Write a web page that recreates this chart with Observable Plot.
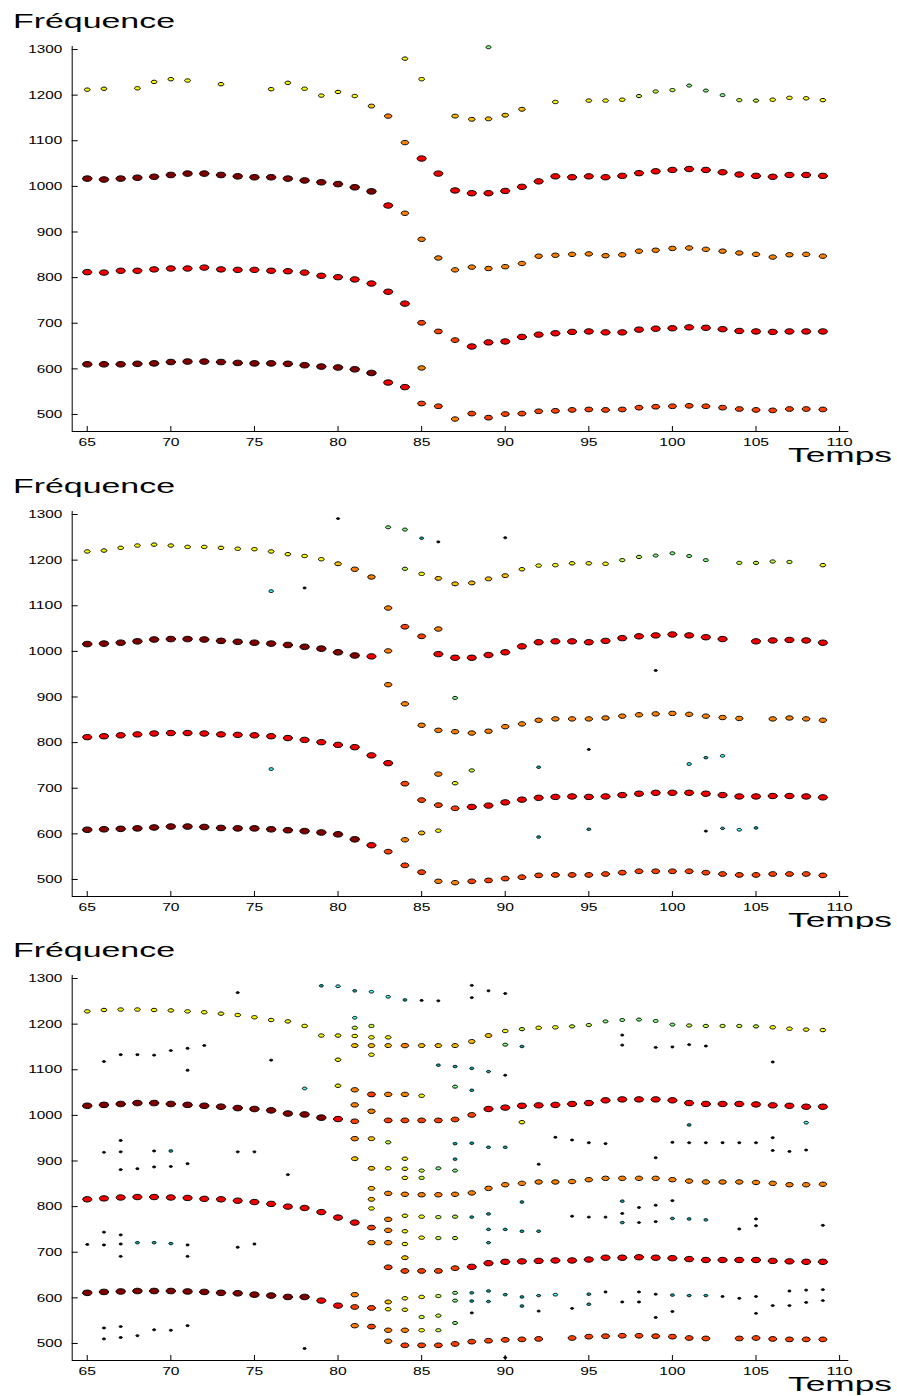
<!DOCTYPE html>
<html>
<head>
<meta charset="utf-8">
<script src="https://cdn.jsdelivr.net/npm/d3@7"></script>
<script src="https://cdn.jsdelivr.net/npm/@observablehq/plot@0.6"></script>
<style>
  body { margin: 0; background: #fff; }
  #root { position: relative; width: 897px; height: 1396px; overflow: hidden; }
  .panel { position: absolute; left: 0; }
</style>
</head>
<body>
<div id="root"></div>
<script>
// ---------- axes ----------
const X_TICKS = [65, 70, 75, 80, 85, 90, 95, 100, 105, 110];
const Y_TICKS = [500, 600, 700, 800, 900, 1000, 1100, 1200, 1300];
const X_DOMAIN = [64.1, 110.55];
const Y_DOMAIN = [462.7, 1306.6];
const Y_TITLE = "Fréquence";
const X_TITLE = "Temps";

// amplitude level -> colour / size (A strongest ... K weakest)
const LEVEL_COLOR = {A:"#800000", B:"#f00000", C:"#ff4000", D:"#ff8000", E:"#ffbf00",
                     F:"#ffff00", G:"#bfff40", H:"#80ff80", I:"#40ffff", J:"#00b0b0", K:"#000000"};
const LEVEL_R = {A:2.8, B:2.7, C:2.35, D:2.2, E:1.95, F:1.7, G:1.6, H:1.5, I:1.35, J:1.2, K:0.95};

// ---------- panel 1 (tracks start at t0, one value per time step, "." = gap) ----------
const P1_TOP_T0 = 65;
const P1_TOP_LV = "FF.FF" + "FF.F." + ".FFFF" + "FFEDD" + "..EEE" + "EE.F." + "FFFGG" + "GHHHG" + "GFFFF";
const P1_TOP_F = [1212,1214,null,1215,1229, 1235,1232,null,1224,null, null,1213,1227,1214,1199,
                  1207,1198,1176,1154,1096, null,null,1154,1147,1148, 1156,1169,null,1185,null,
                  1188,1188,1190,1198,1208, 1211,1221,1210,1200,1189, 1188,1190,1194,1193,1189];
const P1_H3_T0 = 65;
const P1_H3_LV = "AAAAAAAAAAAAAAAAAAB" + "DDDDDDDDDDDDDDDDDDDDDDDDDD";
const P1_H3_F = [1017,1015,1017,1019,1021, 1025,1028,1028,1025,1022, 1020,1020,1017,1013,1009,
                 1005,998,989,958,941, 884,843,817,823,820, 824,831,847,849,851,
                 852,848,850,858,860, 864,865,862,858,854, 851,845,850,851,847];
const P1_RED_T0 = 85;
const P1_RED_LV = "BBBBBBBBBBBBBBBBBBBBBBBBB";
const P1_RED_F = [1061,1028,991,985,985, 990,999,1011,1022,1020, 1022,1020,1023,1029,1033,
                  1036,1038,1036,1031,1026, 1023,1021,1025,1025,1023];
const P1_H2_T0 = 65;
const P1_H2_LV = "BBBBBBBBBBBBBBBBBBBBCCCBBBBBBBBBBBBBBBBBBBBBB";
const P1_H2_F = [812,811,815,815,818, 820,820,822,818,817, 817,815,814,811,804,
                 801,796,787,769,743, 701,682,663,649,658, 660,670,675,678,681,
                 682,680,680,686,688, 689,691,690,687,683, 682,681,682,682,682];
const P1_H1_T0 = 65;
const P1_H1_LV = "AAAAAAAAAAAAAAAAAABBCCDCCCCCCCCCCCCCCCCCCCCCC";
const P1_H1_F = [610,610,610,611,612, 615,616,616,615,613, 612,612,611,608,605,
                 603,599,591,570,560, 524,518,490,502,493, 501,502,507,508,510,
                 511,510,511,515,517, 518,519,518,515,512, 510,509,512,512,511];
const P1_EXTRA = [[84,1280,"F"],[85,1235,"F"],[89,1305,"H"],[85,602,"D"]];

// ---------- panel 2 ----------
const P2_TOP_T0 = 65;
const P2_TOP_LV = "FFFFF" + "FFFFF" + "FFFFF" + "EDD.G" + "FEEEE" + "EFFFF" + "FFGGH" + "HHH.G" + "GGG.F";
const P2_TOP_F = [1219,1221,1227,1232,1234, 1232,1229,1229,1227,1225, 1224,1219,1213,1209,1202,
                  1192,1180,1163,null,1181, 1170,1160,1148,1150,1159, 1166,1180,1188,1189,1193,
                  1193,1192,1200,1207,1210, 1215,1209,1200,null,1194, 1194,1197,1196,null,1189];
const P2_H3_T0 = 65;
const P2_H3_LV = "AAAAAAAAAAAAAAAAABDCC" + "BBBBBBBBBBBBBBBBBB" + ".BBBBB";
const P2_H3_F = [1016,1017,1019,1022,1026, 1027,1027,1026,1023,1021, 1019,1017,1014,1010,1006,
                 998,991,989,1001,1054, 1033,994,986,986,992, 998,1011,1020,1022,1022,
                 1020,1023,1029,1033,1035, 1037,1035,1031,1027,null, 1022,1024,1025,1024,1019];
const P2_OR_T0 = 83;
const P2_OR_LV = "DDDDDDDDDDDDDDDDDDDDDD.DDDD";
const P2_OR_F = [927,885,838,827,824, 821,825,835,841,849, 852,852,852,854,858,
                 861,863,864,862,858, 855,853,null,852,854, 852,849];
const P2_H2_T0 = 65;
const P2_H2_LV = "BBBBBBBBBBBBBBBBBBBCCCCBBBBBBBBBBBBBBBBBBBBBB";
const P2_H2_F = [812,814,816,818,820, 821,821,820,818,817, 816,814,810,806,801,
                 795,790,772,755,710, 674,663,656,659,662, 669,675,679,681,682,
                 681,682,685,688,690, 690,690,688,685,682, 682,683,683,682,680];
const P2_H1_T0 = 65;
const P2_H1_LV = "AAAAAAAAAAAAAAAAABCCCDDCCCCCCCCCCCCCCCCCCCCCC";
const P2_H1_F = [609,610,611,612,614, 616,616,615,613,612, 612,610,608,606,603,
                 599,588,575,561,531, 516,496,493,496,498, 502,505,509,510,510,
                 510,512,515,518,518, 518,518,515,512,510, 510,512,512,512,509];
const P2_EXTRA = [[76,1132,"I"],[78,1139,"K"],[80,1291,"K"],[83,1272,"H"],[84,1267,"H"],[85,1248,"J"],
  [86,1240,"K"],[90,1249,"K"],[83,1095,"D"],[86,1049,"D"],[87,898,"H"],[99,958,"K"],
  [76,742,"I"],[86,731,"D"],[87,711,"F"],[88,739,"G"],[92,746,"J"],[95,785,"K"],[101,753,"I"],
  [102,767,"J"],[103,771,"I"],[84,587,"D"],[85,602,"E"],[86,607,"F"],[92,593,"J"],[95,610,"J"],
  [102,606,"K"],[103,612,"J"],[104,609,"I"],[105,613,"J"]];

// ---------- panel 3 ----------
const P3_TOP_T0 = 65;
const P3_TOP_LV = "FFFFFFFFFFFFFFFFFFF";
const P3_TOP_F = [1228,1231,1232,1232,1231, 1230,1228,1226,1223,1220, 1215,1209,1206,1196,1175,
                  1175,1174,1171,1171];
const P3_UP_T0 = 81;
const P3_UP_LV = "EEEDEEEEEFGFFGGHHHHHGGGGGFFFF";
const P3_UP_F = [1153,1153,1153,1153,1153, 1153,1153,1162,1175,1185, 1189,1192,1193,1195,1198,
                 1206,1209,1210,1207,1199, 1197,1196,1196,1196,1195, 1193,1190,1188,1187];
const P3_H3_T0 = 65;
const P3_H3_LV = "AAAAAAAAAAAAAAABCDCCCCCC" + "BBBBBBBBBBBBBBBBBBBBB";
const P3_H3_F = [1021,1023,1025,1027,1027, 1025,1023,1021,1019,1016, 1014,1011,1004,1002,995,
                 992,987,1009,989,989, 989,989,991,1001,1014, 1017,1021,1022,1023,1025,
                 1027,1033,1035,1035,1035, 1033,1027,1025,1025,1025, 1024,1022,1021,1019,1019];
const P3_OR_T0 = 83;
const P3_OR_LV = "DDDDDDDDDDDDDDDDDDDDDDDDDDD";
const P3_OR_F = [829,827,826,826,827, 830,840,848,851,854, 854,855,859,862,862,
                 862,862,859,856,854, 854,854,853,851,848, 848,849];
const P3_H2_T0 = 65;
const P3_H2_LV = "BBBBBBBBBBBBBBBBBC";
const P3_H2_F = [816,818,820,821,821, 820,819,817,816,813, 810,806,800,797,788,
                 776,765,754];
const P3_LOW2_T0 = 83;
const P3_LOW2_LV = "CCCCCBBBBBBBBBBBBBBBBBBBBBB";
const P3_LOW2_F = [667,659,659,659,665, 668,676,679,680,681, 682,682,684,688,688,
                   689,688,687,685,683, 683,683,683,681,680, 679,679];
const P3_H1_T0 = 65;
const P3_H1_LV = "AAAAAAAAAAAAAABBCC";
const P3_H1_F = [611,613,614,615,615, 615,614,613,611,610, 607,605,602,602,594,
                 583,580,578];
const P3_LOW1_T0 = 83;
const P3_LOW1_LV = "DCCCCCCCCC.CCCCCCCCC.CCCCCC";
const P3_LOW1_F = [505,496,496,496,499, 504,506,508,509,510, null,512,515,516,517,
                   517,516,515,512,511, null,511,512,510,509, 509,509];
const P3_EXTRA_LEFT = [[74,1269,"K"],[66,1118,"K"],[67,1133,"K"],[68,1133,"K"],[69,1132,"K"],[70,1142,"K"],
  [71,1147,"K"],[71,1099,"K"],[72,1153,"K"],[76,1121,"K"],[78,1059,"I"],
  [66,919,"K"],[67,945,"K"],[67,920,"K"],[67,881,"K"],[68,883,"K"],[69,922,"K"],[69,887,"K"],
  [70,922,"J"],[70,888,"K"],[71,894,"K"],[74,920,"K"],[75,920,"K"],[77,870,"K"],
  [65,717,"K"],[66,744,"K"],[66,716,"K"],[67,738,"K"],[67,718,"K"],[67,691,"K"],[68,721,"J"],
  [69,721,"J"],[70,719,"J"],[71,716,"K"],[71,691,"K"],[74,711,"K"],[75,718,"K"],
  [66,534,"K"],[66,510,"K"],[67,537,"K"],[67,513,"K"],[68,517,"K"],[69,530,"K"],[70,529,"K"],
  [71,539,"K"],[78,489,"K"]];
const P3_EXTRA_MID = [[79,1284,"J"],[80,1283,"I"],[81,1273,"J"],[82,1271,"I"],[83,1260,"I"],[84,1253,"J"],
  [85,1252,"K"],[86,1251,"K"],[88,1285,"K"],[88,1258,"K"],[89,1273,"K"],[90,1267,"K"],
  [80,1122,"F"],[80,1065,"F"],
  [81,1214,"I"],[81,1192,"G"],[81,1056,"D"],[81,1023,"D"],[81,949,"D"],[81,905,"E"],[81,607,"D"],[81,539,"D"],
  [82,1196,"G"],[82,1133,"F"],[82,1046,"C"],[82,949,"E"],[82,884,"E"],[82,840,"E"],[82,816,"E"],
  [82,796,"F"],[82,721,"D"],[82,537,"C"],
  [83,1046,"D"],[83,941,"G"],[83,884,"F"],[83,772,"D"],[83,748,"D"],[83,721,"D"],[83,591,"E"],[83,575,"F"],[83,529,"D"],
  [84,1046,"D"],[84,905,"F"],[84,883,"F"],[84,863,"F"],[84,780,"F"],[84,746,"F"],[84,718,"F"],[84,688,"E"],
  [84,599,"F"],[84,574,"F"],[84,529,"D"],
  [85,1043,"F"],[85,879,"G"],[85,863,"G"],[85,778,"F"],[85,732,"F"],[85,602,"F"],[85,558,"G"],[85,529,"F"],
  [86,1110,"J"],[86,884,"H"],[86,777,"G"],[86,731,"G"],[86,604,"G"],[86,561,"G"],[86,529,"G"],
  [87,1107,"J"],[87,1063,"H"],[87,938,"J"],[87,904,"J"],[87,879,"H"],[87,778,"G"],[87,731,"G"],
  [87,611,"H"],[87,594,"H"],[87,545,"H"],
  [88,1103,"J"],[88,1055,"J"],[88,939,"J"],[88,777,"J"],[88,611,"J"],[88,593,"J"],[88,567,"K"],
  [89,1096,"J"],[89,930,"J"],[89,784,"J"],[89,750,"J"],[89,721,"J"],[89,615,"J"],[89,592,"J"],
  [90,1155,"H"],[90,1088,"K"],[90,930,"J"],[90,750,"J"],[90,607,"J"],[90,469,"K"],
  [91,1151,"J"],[91,985,"F"],[91,810,"J"],[91,746,"J"],[91,602,"J"],[91,582,"J"],
  [92,893,"K"],[92,746,"J"],[92,605,"J"],[92,571,"K"]];
const P3_EXTRA_RIGHT = [[93,952,"K"],[93,607,"I"],[94,946,"K"],[94,779,"K"],[94,577,"K"],
  [95,940,"K"],[95,777,"K"],[95,608,"J"],[95,586,"J"],[96,938,"K"],[96,777,"K"],[96,613,"K"],
  [97,1176,"K"],[97,1154,"K"],[97,812,"J"],[97,785,"K"],[97,765,"J"],[97,591,"K"],
  [98,798,"K"],[98,765,"K"],[98,613,"K"],[98,591,"K"],
  [99,1149,"K"],[99,907,"K"],[99,803,"K"],[99,767,"K"],[99,608,"K"],[99,557,"K"],
  [100,1150,"K"],[100,941,"K"],[100,813,"K"],[100,774,"J"],[100,606,"J"],[100,570,"K"],
  [101,1155,"K"],[101,979,"J"],[101,940,"K"],[101,773,"J"],[101,605,"J"],
  [102,1152,"K"],[102,940,"K"],[102,771,"J"],[102,605,"J"],[103,940,"K"],[103,603,"K"],
  [104,940,"K"],[104,751,"K"],[104,599,"K"],
  [105,940,"K"],[105,773,"K"],[105,758,"K"],[105,603,"K"],[105,566,"K"],
  [106,1117,"K"],[106,951,"K"],[106,923,"K"],[106,583,"K"],
  [107,921,"K"],[107,615,"K"],[107,583,"K"],
  [108,984,"I"],[108,924,"K"],[108,617,"K"],[108,590,"K"],
  [109,759,"K"],[109,618,"K"],[109,594,"K"]];

// ---------- build ----------
function track(t0, levels, freqs) {
  const out = [];
  freqs.forEach((f, i) => { if (f != null && levels[i] !== ".") out.push([t0 + i, f, levels[i]]); });
  return out;
}
const PANELS = [
  [].concat(track(P1_TOP_T0, P1_TOP_LV, P1_TOP_F), track(P1_H3_T0, P1_H3_LV, P1_H3_F),
            track(P1_RED_T0, P1_RED_LV, P1_RED_F), track(P1_H2_T0, P1_H2_LV, P1_H2_F),
            track(P1_H1_T0, P1_H1_LV, P1_H1_F), P1_EXTRA),
  [].concat(track(P2_TOP_T0, P2_TOP_LV, P2_TOP_F), track(P2_H3_T0, P2_H3_LV, P2_H3_F),
            track(P2_OR_T0, P2_OR_LV, P2_OR_F), track(P2_H2_T0, P2_H2_LV, P2_H2_F),
            track(P2_H1_T0, P2_H1_LV, P2_H1_F), P2_EXTRA),
  [].concat(P3_EXTRA_LEFT, P3_EXTRA_MID, P3_EXTRA_RIGHT,
            track(P3_TOP_T0, P3_TOP_LV, P3_TOP_F), track(P3_UP_T0, P3_UP_LV, P3_UP_F),
            track(P3_H3_T0, P3_H3_LV, P3_H3_F), track(P3_OR_T0, P3_OR_LV, P3_OR_F),
            track(P3_H2_T0, P3_H2_LV, P3_H2_F), track(P3_LOW2_T0, P3_LOW2_LV, P3_LOW2_F),
            track(P3_H1_T0, P3_H1_LV, P3_H1_F), track(P3_LOW1_T0, P3_LOW1_LV, P3_LOW1_F))
];

// horizontal ellipse symbol
const ELLIPSE = {
  draw(ctx, size) {
    const ry = Math.sqrt(size / Math.PI), rx = ry * 1.7, k = 0.5523;
    ctx.moveTo(rx, 0);
    ctx.bezierCurveTo(rx, k * ry, k * rx, ry, 0, ry);
    ctx.bezierCurveTo(-k * rx, ry, -rx, k * ry, -rx, 0);
    ctx.bezierCurveTo(-rx, -k * ry, -k * rx, -ry, 0, -ry);
    ctx.bezierCurveTo(k * rx, -ry, rx, -k * ry, rx, 0);
    ctx.closePath();
  }
};

const FONT = "'Liberation Sans', Arial, Helvetica, sans-serif";
const PANEL_H = 465, PANEL_STEP = 464.7;
const root = document.getElementById("root");

PANELS.forEach((pts, p) => {
  const svg = Plot.plot({
    width: 897, height: PANEL_H,
    marginLeft: 71.7, marginRight: 48.7, marginTop: 46, marginBottom: 34,
    x: {domain: X_DOMAIN},
    y: {domain: Y_DOMAIN},
    r: {type: "identity"},
    color: {type: "identity"},
    style: {fontFamily: FONT, fontSize: "11.5px", color: "black", background: "white", overflow: "visible"},
    marks: [
      Plot.ruleX([X_DOMAIN[0]], {stroke: "black", strokeWidth: 1}),
      Plot.ruleY([Y_DOMAIN[0]], {stroke: "black", strokeWidth: 1}),
      Plot.axisY(Y_TICKS, {tickSize: 6, dx: 6, fill: "none", label: null}),
      Plot.axisY(Y_TICKS, {tickSize: 0, tickPadding: 10, tickFormat: d => String(d), label: null}),
      Plot.axisX(X_TICKS, {tickSize: 5, dy: -5, fill: "none", label: null}),
      Plot.axisX(X_TICKS, {tickSize: 0, tickPadding: 6, tickFormat: d => String(d), label: null}),
      Plot.dot(pts, {
        x: d => d[0], y: d => d[1],
        r: d => LEVEL_R[d[2]],
        fill: d => LEVEL_COLOR[d[2]],
        stroke: "black", strokeWidth: 1,
        symbol: ELLIPSE
      })
    ]
  });
  const s = d3.select(svg);
  s.selectAll('g[aria-label="y-axis tick label"] text').each(function() {
    const n = this.textContent.length;
    d3.select(this).attr("textLength", n * 8.5).attr("lengthAdjust", "spacingAndGlyphs");
  });
  s.selectAll('g[aria-label="x-axis tick label"] text').each(function() {
    const n = this.textContent.length;
    d3.select(this).attr("textLength", n * 8.7).attr("lengthAdjust", "spacingAndGlyphs");
  });
  s.append("text").attr("x", 13).attr("y", 27.7)
    .attr("text-anchor", "start")
    .attr("font-size", 20).attr("fill", "black")
    .attr("textLength", 162).attr("lengthAdjust", "spacingAndGlyphs")
    .text(Y_TITLE);
  s.append("text").attr("x", 788).attr("y", 462.3)
    .attr("text-anchor", "start")
    .attr("font-size", 21).attr("fill", "black")
    .attr("textLength", 104).attr("lengthAdjust", "spacingAndGlyphs")
    .text(X_TITLE);
  const div = document.createElement("div");
  div.className = "panel";
  div.style.top = (p * PANEL_STEP) + "px";
  div.appendChild(svg);
  root.appendChild(div);
});
</script>
</body>
</html>
